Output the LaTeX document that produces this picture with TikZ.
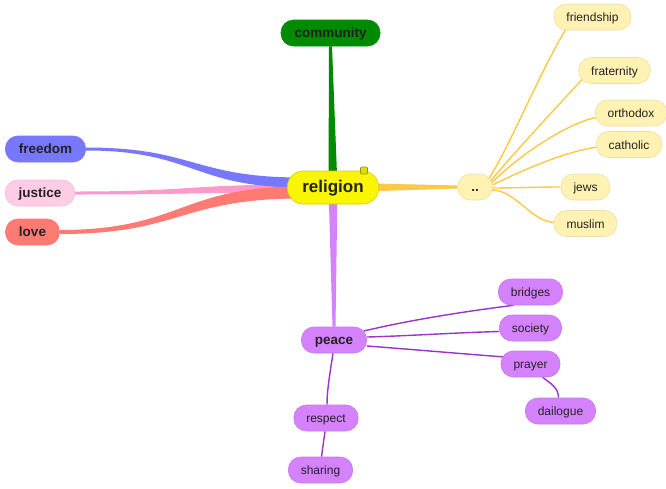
\documentclass[tikz,border=0pt]{standalone}
\usepackage{fontspec}
\setmainfont{Liberation Sans}
\usetikzlibrary{calc,backgrounds}
\definecolor{txt}{HTML}{222222}
\definecolor{cgreen}{HTML}{008A00}
\definecolor{cyellow}{HTML}{FAF500}
\definecolor{cblue}{HTML}{7878FF}
\definecolor{cpinkfill}{HTML}{FFCCE6}
\definecolor{cpink}{HTML}{FF99CC}
\definecolor{csalmon}{HTML}{FF7A72}
\definecolor{clight}{HTML}{FFF2B3}
\definecolor{corange}{HTML}{FFC845}
\definecolor{cviolet}{HTML}{D582FF}
\definecolor{cpurple}{HTML}{9933CC}
\newcommand{\mmtaperH}[5]{%
  \fill[#1] let \p1=(#2), \p2=(#3), \n1={(\x2-\x1)/2} in
    (\x1,\y1+#4) .. controls (\x1+\n1,\y1+#4) and (\x2-\n1,\y2+#5) .. (\x2,\y2+#5)
    -- (\x2,\y2-#5) .. controls (\x2-\n1,\y2-#5) and (\x1+\n1,\y1-#4) .. (\x1,\y1-#4) -- cycle;}
\begin{document}
\begin{tikzpicture}[x=1pt,y=-1pt,
  base/.style={rectangle, rounded corners=12.5pt, minimum height=26pt, inner ysep=0pt,
    text=txt, text height=2ex, text depth=0.2ex, line width=0.6pt},
  lone/.style={base, font=\bfseries\fontsize{13.5}{16}\selectfont, inner xsep=13.5pt},
  ltwo/.style={base, font=\fontsize{12}{14}\selectfont, inner xsep=12.5pt},
  rootnode/.style={base, rounded corners=16pt, minimum height=33pt, inner xsep=15pt,
    font=\bfseries\fontsize{17}{20}\selectfont, fill=cyellow, draw=cyellow!85!black},
  yl/.style={fill=clight, draw=clight!92!black},
  vl/.style={fill=cviolet, draw=cviolet!92!black},
  oline/.style={draw=corange, line width=1.4pt},
  pline/.style={draw=cpurple, line width=1.4pt}]
\useasboundingbox (0,0) rectangle (666,488);
% nodes
\node[rootnode] (religion) at (333,187.5) {religion};
\node[draw=cyellow!60!black, fill=cyellow!80!olive, rounded corners=1pt, minimum size=7pt, inner sep=0pt, line width=0.6pt] (mark) at (364,170.5) {};
\node[lone, fill=cgreen, draw=cgreen] (community) at (330.5,33) {community};
\node[lone, fill=cblue, draw=cblue] (freedom) at (45.5,149) {freedom};
\node[lone, fill=cpinkfill, draw=cpinkfill!95!black] (justice) at (40,193) {justice};
\node[lone, fill=csalmon, draw=csalmon] (love) at (32.5,232) {love};
\node[lone, yl] (dots) at (475,187) {..};
\node[ltwo, yl] (friendship) at (592.5,17) {friendship};
\node[ltwo, yl] (fraternity) at (614.5,70.5) {fraternity};
\node[ltwo, yl] (orthodox) at (631,113) {orthodox};
\node[ltwo, yl] (catholic) at (629,144.5) {catholic};
\node[ltwo, yl] (jews) at (585.5,187) {jews};
\node[ltwo, yl] (muslim) at (585.5,223.5) {muslim};
\node[lone, vl] (peace) at (334,340) {peace};
\node[ltwo, vl] (bridges) at (530.5,292) {bridges};
\node[ltwo, vl] (society) at (530.5,328) {society};
\node[ltwo, vl] (prayer) at (530.5,364) {prayer};
\node[ltwo, vl] (dailogue) at (560.5,411) {dailogue};
\node[ltwo, vl] (respect) at (326,418) {respect};
\node[ltwo, vl] (sharing) at (320.5,470) {sharing};
\coordinate (rf) at ($(religion.west)+(14,-5)$);
\coordinate (rj) at ($(religion.west)+(14,1)$);
\coordinate (rl) at ($(religion.west)+(14,5)$);
% connectors
\begin{scope}[on background layer]
\fill[white] (0,0) rectangle (666,488);
\fill[cgreen] ($(community.south)+(-1.5,0)$) -- ($(religion.center)+(-4.5,0)$) -- ($(religion.center)+(4.5,0)$) -- ($(community.south)+(1.5,0)$) -- cycle;
\fill[cviolet] ($(religion.center)+(-4.5,0)$) -- ($(peace.north)+(-1.5,0)$) -- ($(peace.north)+(1.5,0)$) -- ($(religion.center)+(4.5,0)$) -- cycle;
\fill[corange] ($(religion.center)+(0,-5)$) -- ($(dots.west)+(0,-1.5)$) -- ($(dots.west)+(0,1.5)$) -- ($(religion.center)+(0,5)$) -- cycle;
\mmtaperH{cpink}{justice.east}{rj}{1.5pt}{4pt}
\mmtaperH{cblue}{freedom.east}{rf}{1.5pt}{5pt}
\mmtaperH{csalmon}{love.east}{rl}{2pt}{6pt}
\draw[oline] ($(dots.east)+(-4,-8)$) .. controls +(20,-30) and +(-25,40) .. ($(friendship.west)+(13,11)$);
\draw[oline] ($(dots.east)+(-2,-6)$) .. controls +(25,-30) and +(-20,22) .. ($(fraternity.west)+(4,8.5)$);
\draw[oline] ($(dots.east)+(-1,-4)$) .. controls +(30,-30) and +(-30,6) .. ($(orthodox.west)+(3,4)$);
\draw[oline] ($(dots.east)+(0,-2)$) .. controls +(30,-15) and +(-30,3) .. ($(catholic.west)+(3,2.5)$);
\draw[oline] ($(dots.east)+(0,1)$) .. controls +(20,0) and +(-20,0) .. (jews.west);
\draw[oline] ($(dots.east)+(-1,3)$) .. controls +(25,0) and +(-25,0) .. ($(muslim.west)+(2,-1)$);
\draw[pline] ($(peace.east)+(-3,-9)$) .. controls +(50,-12) and +(-40,5) .. ($(bridges.south)+(-17,0)$);
\draw[pline] ($(peace.east)+(0,-3)$) .. controls +(40,-1) and +(-40,1) .. ($(society.west)+(0,3.5)$);
\draw[pline] ($(peace.east)+(0,6)$) .. controls +(40,3) and +(-40,-3) .. ($(prayer.west)+(4,-7)$);
\draw[pline] ($(prayer.south)+(12,0)$) .. controls +(8,6) and +(0,-10) .. ($(dailogue.north)+(-2,0)$);
\draw[pline] ($(peace.south)+(-1,0)$) .. controls +(-3,20) and +(0,-15) .. ($(respect.north)+(1,0)$);
\draw[pline] ($(respect.south)+(-1,0)$) -- ($(sharing.north)+(1,0)$);
\end{scope}
\end{tikzpicture}
\end{document}
